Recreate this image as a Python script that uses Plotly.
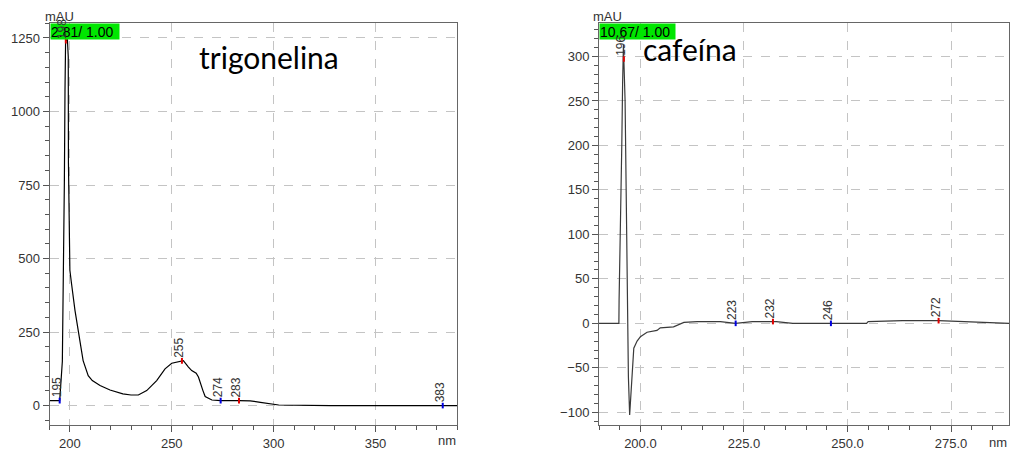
import numpy as np
import plotly.graph_objects as go

W, H = 1015, 451

# ---------------- data ----------------
trig_nm = [190, 195, 196.3, 196.9, 197.3, 197.6, 197.9, 198.8, 199.2, 199.3, 199.7, 200.0,
           200.8, 202.5, 204.9, 206.5, 209.0, 211.0, 214.8, 219.7, 226.0, 230.0, 233.6,
           237.7, 242.6, 246.7, 250.0, 252.5, 255.7, 258.2, 259.8, 262.0, 263.1, 265.3,
           266.4, 269.7, 274.0, 283.0, 288.5, 293.5, 302.5, 328.0, 390.0]
trig_abs = [17, 17, 150, 450, 760, 1070, 1240, 1245, 1186, 824, 630, 460,
            415, 324, 221, 153, 102, 85, 68, 53, 40, 36, 36,
            51, 85, 125, 144, 148, 153, 131, 119, 110, 97, 51,
            31, 19, 17, 17, 16, 11, 2, 0, 0]

caf_nm = [190, 194.8, 194.85, 195.2, 195.5, 195.7, 195.9, 196.3, 196.6, 196.9, 197.1, 197.4,
          197.8, 198.4, 199.2, 200.0, 201.6, 204.0, 204.8, 208.0, 210.5, 213.7, 219.3,
          223.0, 227.0, 232.8, 236.8, 245.7, 254.6, 255.0, 263.3, 272.0, 279.0, 287.0, 289.0]
caf_abs = [0, 0, 26, 100, 200, 270, 313, 250, 100, 0, -60, -103,
           -68, -28, -20, -15, -10, -8, -5, -4, 1, 2, 2,
           0, 2, 2, 0, 0, 0, 2, 3, 3, 2, 1, 0]

trig_peaks = [195, 198, 255, 274, 283, 383]
trig_peak_kind = ["blue", "red", "red", "blue", "red", "blue"]
caf_peaks = [196, 223, 232, 246, 272]
caf_peak_kind = ["red", "blue", "red", "blue", "red"]

trig_title = "trigonelina"
caf_title = "cafeína"
trig_box = "2.81/ 1.00"
caf_box = "10.67/ 1.00"
y_unit = "mAU"
x_unit = "nm"

# ---------------- layout geometry ----------------
def px_x(p):
    return p / W

def px_y(p):
    return 1 - p / H

dom_y = [px_y(425), px_y(22.7)]
dom_x1 = [px_x(49.5), px_x(457)]
dom_x2 = [px_x(599), px_x(1009)]

FONT = "Liberation Sans, Arial, sans-serif"
tickfont = dict(family=FONT, size=13, color="#333")
grid = dict(showgrid=True, gridcolor="#c4c4c4", griddash="dash", gridwidth=1)
line = dict(showline=True, linecolor="#666", linewidth=1, mirror=True, zeroline=False)

fig = go.Figure()
fig.add_trace(go.Scatter(x=trig_nm, y=trig_abs, mode="lines",
                         line=dict(color="black", width=1.2), xaxis="x", yaxis="y",
                         hoverinfo="skip", showlegend=False))
fig.add_trace(go.Scatter(x=caf_nm, y=caf_abs, mode="lines",
                         line=dict(color="#3a3a3a", width=1.2), xaxis="x2", yaxis="y2",
                         hoverinfo="skip", showlegend=False))

annotations = []

# green boxes (drawn first so peak labels overlap them)
for x0, txt, wbox in [(49.5, trig_box, 68), (599, caf_box, 75)]:
    annotations.append(dict(x=px_x(x0), y=px_y(22.7), xref="paper", yref="paper",
                            xanchor="left", yanchor="top", text=txt, showarrow=False,
                            bgcolor="#00e600", borderpad=0, width=wbox, height=15,
                            align="left",
                            font=dict(family=FONT, size=14, color="black")))

def add_peaks(peaks, kinds, xs, ys, xa, ya, ycap):
    vals = np.interp(peaks, xs, ys)
    cols = ["#e00000" if k == "red" else "#0000e0" for k in kinds]
    fig.add_trace(go.Scatter(x=peaks, y=vals, mode="markers", xaxis=xa, yaxis=ya,
                             marker=dict(symbol="line-ns-open", size=4, color=cols,
                                         line=dict(color=cols, width=2)),
                             hoverinfo="skip", showlegend=False))
    for p, v in zip(peaks, vals):
        annotations.append(dict(x=p, y=min(v, ycap), xref=xa, yref=ya, text=str(p),
                                textangle=-90, showarrow=False, xanchor="center",
                                yanchor="bottom", xshift=-3, yshift=1,
                                font=dict(family=FONT, size=12, color="#333")))

add_peaks(trig_peaks, trig_peak_kind, trig_nm, trig_abs, "x", "y", 1235)
add_peaks(caf_peaks, caf_peak_kind, caf_nm, caf_abs, "x2", "y2", 330)

# mAU labels
for x0 in (42.5, 591):
    annotations.append(dict(x=px_x(x0), y=px_y(16), xref="paper", yref="paper",
                            xanchor="left", yanchor="middle", text=y_unit, showarrow=False,
                            font=dict(family=FONT, size=13, color="#333")))
# nm labels
for x0, y0 in ((458, 440), (1009, 442)):
    annotations.append(dict(x=px_x(x0), y=px_y(y0), xref="paper", yref="paper",
                            xanchor="right", yanchor="middle", text=x_unit, showarrow=False,
                            font=dict(family=FONT, size=13, color="#333")))
# titles
annotations.append(dict(x=px_x(269), y=px_y(57), xref="paper", yref="paper",
                        xanchor="center", yanchor="middle", text=trig_title, showarrow=False,
                        font=dict(family="Lato, Open Sans, sans-serif", size=30, color="black")))
annotations.append(dict(x=px_x(690), y=px_y(49), xref="paper", yref="paper",
                        xanchor="center", yanchor="middle", text=caf_title, showarrow=False,
                        font=dict(family="Lato, Open Sans, sans-serif", size=30, color="black")))

fig.update_layout(
    width=W, height=H, margin=dict(l=0, r=0, t=0, b=0),
    paper_bgcolor="white", plot_bgcolor="white", showlegend=False,
    xaxis=dict(domain=dom_x1, range=[190, 390], anchor="y", tick0=200, dtick=50,
               ticks="outside", ticklen=6, tickcolor="#555", tickfont=tickfont,
               minor=dict(tick0=190, dtick=10, ticks="outside", ticklen=4,
                          tickcolor="#555", showgrid=False),
               **grid, **line),
    yaxis=dict(domain=dom_y, range=[-66, 1302], anchor="x", tick0=0, dtick=250,
               ticks="outside", ticklen=6, tickcolor="#555", tickfont=tickfont,
               minor=dict(tick0=0, dtick=50, ticks="outside", ticklen=4,
                          tickcolor="#555", showgrid=False),
               **grid, **line),
    xaxis2=dict(domain=dom_x2, range=[190, 289], anchor="y2", tick0=200, dtick=25,
                tickformat=".1f",
                ticks="outside", ticklen=6, tickcolor="#555", tickfont=tickfont,
                minor=dict(tick0=190, dtick=5, ticks="outside", ticklen=4,
                           tickcolor="#555", showgrid=False),
                **grid, **line),
    yaxis2=dict(domain=dom_y, range=[-114.3, 338], anchor="x2", tick0=0, dtick=50,
                ticks="outside", ticklen=6, tickcolor="#555", tickfont=tickfont,
                minor=dict(tick0=0, dtick=10, ticks="outside", ticklen=4,
                           tickcolor="#555", showgrid=False),
                **grid, **line),
    annotations=annotations,
)

fig.write_html("out.html", config={"displayModeBar": False},
               post_script="document.body.style.margin='0';document.body.style.padding='0';")
